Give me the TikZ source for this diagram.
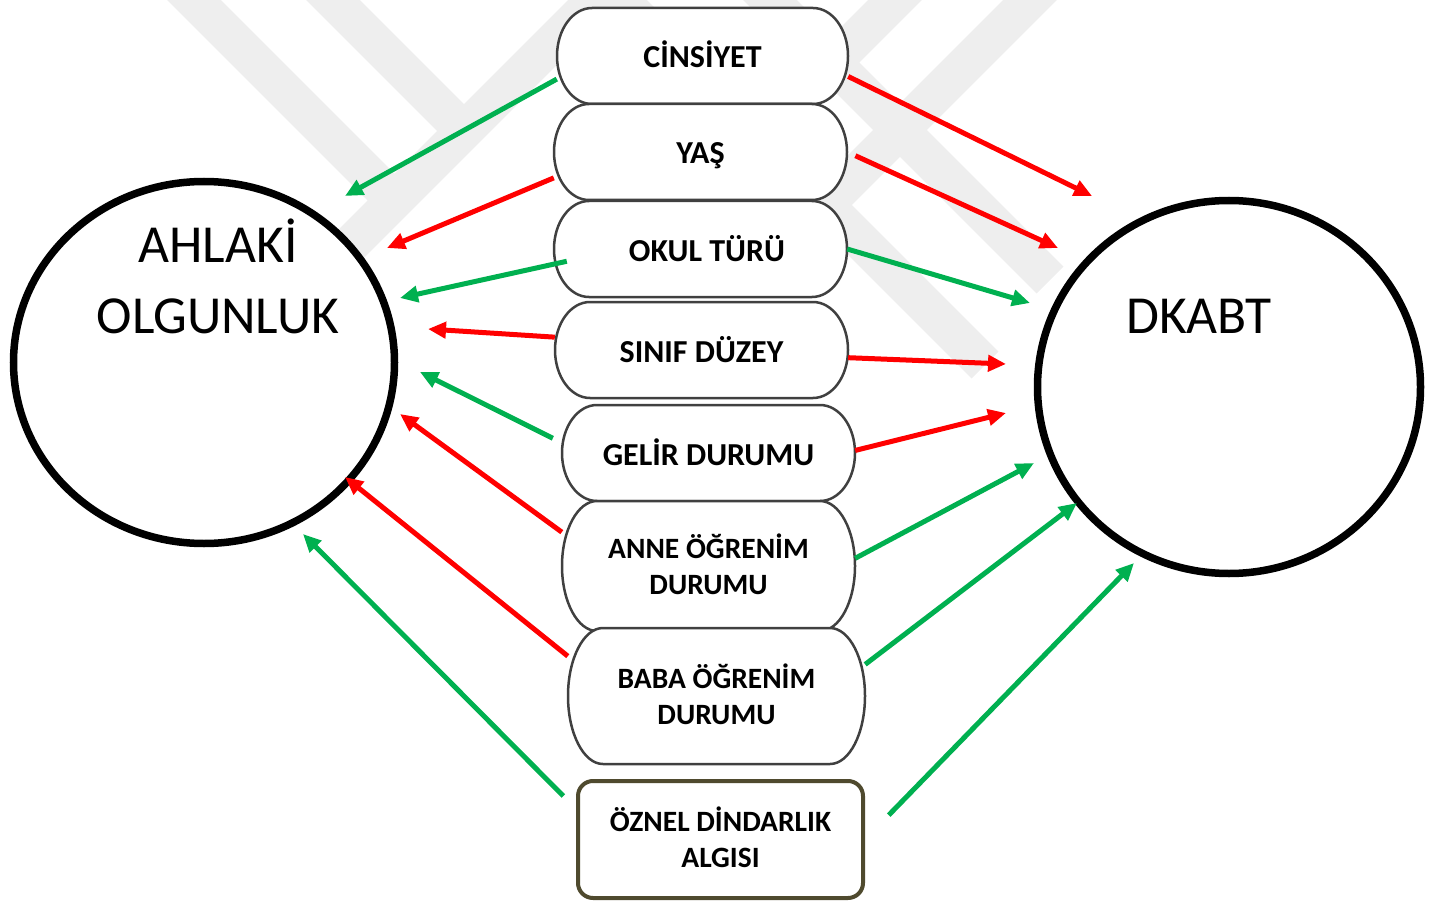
\documentclass[tikz,border=0pt]{standalone}
\usepackage{fontspec}
\setmainfont{Carlito}
\usetikzlibrary{arrows.meta,shapes.geometric}

\definecolor{arrgreen}{RGB}{0,176,80}
\definecolor{arrred}{RGB}{255,0,0}
\definecolor{boxgray}{RGB}{64,64,64}
\definecolor{oznelline}{RGB}{79,74,46}
\definecolor{wmgray}{RGB}{238,238,238}

\tikzset{
  wmark/.style={draw=wmgray, line width=38pt},
  circ/.style={ellipse, draw=black, line width=7.5pt, fill=white},
  termline/.style={draw=boxgray, line width=2.5pt, fill=white},
  boxone/.style={inner sep=0pt, align=center, text height=24pt, text depth=0pt, font={\fontsize{32}{36}\selectfont\bfseries}},
  boxtwo/.style={inner sep=0pt, align=center, text height=56pt, text depth=0pt, font={\fontsize{29.5}{36}\selectfont\bfseries}},
  bigtext/.style={inner sep=0pt, align=center, font={\fontsize{53.5}{71}\selectfont}},
  grarrow/.style={draw=arrgreen, line width=5pt, -{Triangle[length=18pt,width=16pt]}},
  rdarrow/.style={draw=arrred, line width=5pt, -{Triangle[length=18pt,width=16pt]}},
}

\begin{document}
\begin{tikzpicture}[x=1pt,y=1pt,yscale=-1,xscale=1]
\useasboundingbox (0,0) rectangle (1440,904);

% Watermark
\draw [wmark] (164,-30) -- (405,211) ;
\draw [wmark] (303,-30) -- (470,137) ;
\draw [wmark] (625,-30) -- (330,265) ;
\draw [wmark] (590,-30) -- (985,365) ;
\draw [wmark] (1060,-30) -- (820,210) ;
\draw [wmark] (740,-30) -- (1050,280) ;
\draw [wmark] (925,-30) -- (828,67) ;

% Ellipse
\node [circ, minimum width=381pt, minimum height=362pt] (ahlak) at (204,362.5) {};
% Ellipse
\node [circ, minimum width=383pt, minimum height=373pt] (dkabt) at (1229,387) {};

% Text Node
\node [bigtext, anchor=base] (ahlaklbl) at (218,333) {AHLAKİ\\OLGUNLUK};
% Text Node
\node [bigtext, anchor=base] (dkabtlbl) at (1199,333) {DKABT};

% Flowchart: Terminator
\draw [termline] (592,8) -- (813,8) arc [start angle=-90, end angle=90, x radius=35, y radius=48] -- (592,104) arc [start angle=90, end angle=270, x radius=35, y radius=48] -- cycle ;
\node [boxone, minimum width=291pt, minimum height=96pt] (cins) at (702.5,56) {CİNSİYET};
% Flowchart: Terminator
\draw [termline] (589,104) -- (812,104) arc [start angle=-90, end angle=90, x radius=35, y radius=48] -- (589,200) arc [start angle=90, end angle=270, x radius=35, y radius=48] -- cycle ;
\node [boxone, minimum width=293pt, minimum height=96pt] (yas) at (700.5,152) {YAŞ};
% Flowchart: Terminator
\draw [termline] (589,201) -- (812,201) arc [start angle=-90, end angle=90, x radius=35, y radius=48] -- (589,297) arc [start angle=90, end angle=270, x radius=35, y radius=48] -- cycle ;
\node [boxone, minimum width=280pt, minimum height=96pt] (okul) at (707,249) {OKUL TÜRÜ};
% Flowchart: Terminator
\draw [termline] (590,302) -- (813,302) arc [start angle=-90, end angle=90, x radius=35, y radius=48] -- (590,398) arc [start angle=90, end angle=270, x radius=35, y radius=48] -- cycle ;
\node [boxone, minimum width=293pt, minimum height=96pt] (sinif) at (701.5,350) {SINIF DÜZEY};
% Flowchart: Terminator
\draw [termline] (597,405) -- (820,405) arc [start angle=-90, end angle=90, x radius=35, y radius=48] -- (597,501) arc [start angle=90, end angle=270, x radius=35, y radius=48] -- cycle ;
\node [boxone, minimum width=293pt, minimum height=96pt] (gelir) at (708.5,453) {GELİR DURUMU};
% Flowchart: Terminator
\draw [termline] (597,501) -- (820,501) arc [start angle=-90, end angle=90, x radius=35, y radius=65] -- (597,631) arc [start angle=90, end angle=270, x radius=35, y radius=65] -- cycle ;
\node [boxtwo, minimum width=293pt, minimum height=130pt] (anne) at (708.5,566) {ANNE ÖĞRENİM\\DURUMU};
% Flowchart: Terminator
\draw [termline] (603,628) -- (830,628) arc [start angle=-90, end angle=90, x radius=35, y radius=68] -- (603,764) arc [start angle=90, end angle=270, x radius=35, y radius=68] -- cycle ;
\node [boxtwo, minimum width=297pt, minimum height=136pt] (baba) at (716.5,696) {BABA ÖĞRENİM\\DURUMU};
% Rounded Rect
\node [boxtwo, draw=oznelline, line width=4pt, fill=white, rounded corners=15pt, minimum width=285pt, minimum height=117pt] (oznel) at (720.5,839.5) {ÖZNEL DİNDARLIK\\ALGISI};

% Arrow ends
\coordinate (a1) at (345,196);
\coordinate (a2) at (387,248);
\coordinate (a3) at (400,298);
\coordinate (a4) at (428,329);
\coordinate (a5) at (420,372);
\coordinate (a6) at (400,414);
\coordinate (a7) at (345,477);
\coordinate (a8) at (303,534);
\coordinate (d1) at (1092,196);
\coordinate (d2) at (1058,248);
\coordinate (d3) at (1030,303);
\coordinate (d4) at (1006,364);
\coordinate (d5) at (1006,413);
\coordinate (d6) at (1034,463);
\coordinate (d7) at (1077,503);
\coordinate (d8) at (1134,563);

%Straight Lines
\draw [grarrow] (cins.189) -- (a1) ;
\draw [rdarrow] (yas.190) -- (a2) ;
\draw [grarrow] (okul.185) -- (a3) ;
\draw [rdarrow] (sinif.175) -- (a4) ;
\draw [grarrow, shorten <=10pt] (gelir.176) -- (a5) ;
\draw [rdarrow] (anne.167) -- (a6) ;
\draw [rdarrow] (baba.165) -- (a7) ;
\draw [grarrow, shorten <=18pt] (oznel.168) -- (a8) ;
%Straight Lines
\draw [rdarrow] (cins.352) -- (d1) ;
\draw [rdarrow, shorten <=9pt] (yas.east) -- (d2) ;
\draw [grarrow] (okul.east) -- (d3) ;
\draw [rdarrow] (sinif.357) -- (d4) ;
\draw [rdarrow] (gelir.1) -- (d5) ;
\draw [grarrow] (anne.3) -- (d6) ;
\draw [grarrow] (baba.12) -- (d7) ;
\draw [grarrow, shorten <=34pt] (oznel.east) -- (d8) ;

\end{tikzpicture}
\end{document}
